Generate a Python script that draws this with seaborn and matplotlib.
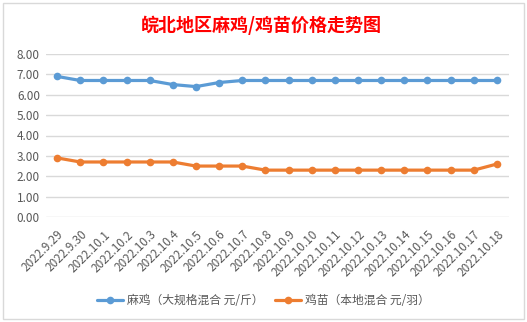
import matplotlib
matplotlib.use("Agg")
import matplotlib.pyplot as plt
import seaborn as sns
import pandas as pd
from matplotlib.patches import Rectangle

dates = ["2022.9.29", "2022.9.30", "2022.10.1", "2022.10.2", "2022.10.3", "2022.10.4",
         "2022.10.5", "2022.10.6", "2022.10.7", "2022.10.8", "2022.10.9", "2022.10.10",
         "2022.10.11", "2022.10.12", "2022.10.13", "2022.10.14", "2022.10.15",
         "2022.10.16", "2022.10.17", "2022.10.18"]
maji = [6.9, 6.7, 6.7, 6.7, 6.7, 6.5, 6.4, 6.6, 6.7, 6.7,
        6.7, 6.7, 6.7, 6.7, 6.7, 6.7, 6.7, 6.7, 6.7, 6.7]
jimiao = [2.9, 2.7, 2.7, 2.7, 2.7, 2.7, 2.5, 2.5, 2.5, 2.3,
          2.3, 2.3, 2.3, 2.3, 2.3, 2.3, 2.3, 2.3, 2.3, 2.6]
series_names = ["麻鸡（大规格混合 元/斤）", "鸡苗（本地混合 元/羽）"]
title = "皖北地区麻鸡/鸡苗价格走势图"
yticks = [0, 1, 2, 3, 4, 5, 6, 7, 8]

sns.set_theme(style="white")
plt.rcParams['font.family'] = ['Noto Sans CJK SC', 'DejaVu Sans']

df = pd.DataFrame({
    "idx": list(range(len(dates))) * 2,
    "value": maji + jimiao,
    "series": [series_names[0]] * len(dates) + [series_names[1]] * len(dates),
})

fig = plt.figure(figsize=(5.27, 3.22), dpi=100)
fig.patch.set_facecolor("white")
ax = fig.add_axes([45.5 / 527, 1 - 217 / 322, 463 / 527, 163 / 322])

palette = {series_names[0]: "#5B9BD5", series_names[1]: "#ED7D31"}
sns.lineplot(data=df, x="idx", y="value", hue="series", palette=palette,
             marker="o", markersize=5.5, markeredgewidth=0, linewidth=2.3,
             ax=ax, legend=True)

ax.set_xlim(-0.5, len(dates) - 0.5)
ax.set_ylim(0, 8)
ax.set_yticks(yticks)
ax.set_yticklabels([f"{v:.2f}" for v in yticks], color="#595959", fontsize=8.5)
ax.set_xticks(range(len(dates)))
ax.set_xticklabels(dates, rotation=45, ha="right", rotation_mode="anchor",
                   color="#595959", fontsize=8.5)
ax.tick_params(axis="y", length=0, pad=4)
ax.tick_params(axis="x", length=0, pad=8)
ax.set_xlabel("")
ax.set_ylabel("")
ax.grid(axis="y", color="#D9D9D9", linewidth=1)
ax.set_axisbelow(True)
for s in ax.spines.values():
    s.set_visible(False)

handles, labels = ax.get_legend_handles_labels()
leg = ax.legend(handles, labels, loc="center", bbox_to_anchor=(0.5, 1 - 301 / 322),
                bbox_transform=fig.transFigure, ncol=2, frameon=False,
                fontsize=8.5, handlelength=2.2, columnspacing=1.0, handletextpad=0.3)
for t in leg.get_texts():
    t.set_color("#595959")

fig.text(261 / 527, 1 - 25 / 322, title, color="#FF0000", fontsize=13,
         fontweight="bold", ha="center", va="center")

fig.patches.append(Rectangle((2.5 / 527, 1 - 319 / 322), 521.5 / 527, 316.5 / 322,
                             transform=fig.transFigure, fill=False,
                             edgecolor="#D9D9D9", linewidth=1))

fig.savefig("out.png", dpi=100, facecolor="white")
